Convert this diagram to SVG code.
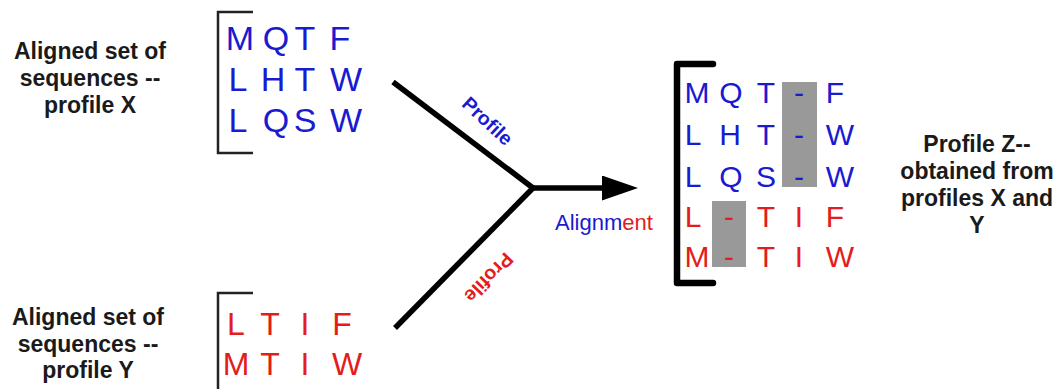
<svg xmlns="http://www.w3.org/2000/svg" width="1060" height="389" viewBox="0 0 1060 389">
<style>
.lbl{font-family:"Liberation Sans",Arial,sans-serif;font-weight:bold;font-size:23px;fill:#1a1a1a;text-anchor:middle}
.seq{font-family:"Liberation Sans",Arial,sans-serif;text-anchor:middle}
.sx{font-size:34px;fill:#1a1ad0}
.sy{font-size:32px;fill:#e41c1c}
.sz{font-size:30px}
.b{fill:#1a1ad0}
.r{fill:#e41c1c}
.br{fill:none;stroke:#222;stroke-width:2.5}
.gap{fill:#999999}
.con{stroke:#000;stroke-width:5.5;fill:none}
.elbl{font-family:"Liberation Sans",Arial,sans-serif;font-weight:bold;font-size:19.5px;text-anchor:middle}
</style>
<defs>
<marker id="arrow" markerUnits="userSpaceOnUse" markerWidth="36" markerHeight="25" refX="4" refY="12.5" orient="auto">
<path d="M0,0 L36,12.5 L0,25 Z" fill="#000"/>
</marker>
</defs>
<rect width="1060" height="389" fill="#fff"/>

<g id="profile-x-label">
<text class="lbl" x="90" y="59">Aligned set of</text>
<text class="lbl" x="90" y="86">sequences --</text>
<text class="lbl" x="90" y="113">profile X</text>
</g>

<g id="profile-x">
<path class="br" d="M253,12 H218 V153 H253"/>
<g class="seq sx">
<text x="240" y="50">M</text><text x="276" y="50">Q</text><text x="305" y="50">T</text><text x="340" y="50">F</text>
<text x="238" y="91">L</text><text x="273" y="91">H</text><text x="305" y="91">T</text><text x="346" y="91">W</text>
<text x="238" y="132">L</text><text x="276" y="132">Q</text><text x="305" y="132">S</text><text x="346" y="132">W</text>
</g>
</g>

<g id="profile-y-label">
<text class="lbl" x="88" y="325">Aligned set of</text>
<text class="lbl" x="88" y="352">sequences --</text>
<text class="lbl" x="88" y="378">profile Y</text>
</g>

<g id="profile-y">
<path class="br" d="M253,293 H218 V392"/>
<g class="seq sy">
<text x="236" y="335">L</text><text x="270" y="335">T</text><text x="305" y="335">I</text><text x="342" y="335">F</text>
<text x="236" y="375">M</text><text x="270" y="375">T</text><text x="305" y="375">I</text><text x="347" y="375">W</text>
</g>
</g>

<g id="connectors">
<line class="con" x1="393" y1="82" x2="533" y2="188"/>
<line class="con" x1="395" y1="328" x2="533" y2="188"/>
<line class="con" x1="531" y1="188" x2="606" y2="188" marker-end="url(#arrow)"/>
<text class="elbl b" transform="translate(483,126) rotate(43)">Profile</text>
<text class="elbl r" transform="translate(484,273) rotate(134)">Profile</text>
<text x="555" y="230" font-family="'Liberation Sans',Arial,sans-serif" font-size="22" class="b">Alignm<tspan class="r">ent</tspan></text>
</g>

<g id="profile-z">
<path d="M713,64 H677 V283 H713" fill="none" stroke="#000" stroke-width="6.5" stroke-linecap="round" stroke-linejoin="round"/>
<rect class="gap" x="782" y="82" width="35" height="105"/>
<rect class="gap" x="712" y="201" width="34" height="66"/>
<g class="seq sz">
<text class="b" x="697" y="103">M</text><text class="b" x="731" y="103">Q</text><text class="b" x="766" y="103">T</text><text class="b" x="799" y="103">-</text><text class="b" x="835" y="103">F</text>
<text class="b" x="693" y="145">L</text><text class="b" x="730" y="145">H</text><text class="b" x="766" y="145">T</text><text class="b" x="799" y="145">-</text><text class="b" x="840" y="145">W</text>
<text class="b" x="693" y="187">L</text><text class="b" x="731" y="187">Q</text><text class="b" x="766" y="187">S</text><text class="b" x="799" y="187">-</text><text class="b" x="840" y="187">W</text>
<text class="r" x="693" y="227">L</text><text class="r" x="729" y="227">-</text><text class="r" x="766" y="227">T</text><text class="r" x="799" y="227">I</text><text class="r" x="835" y="227">F</text>
<text class="r" x="697" y="267">M</text><text class="r" x="729" y="267">-</text><text class="r" x="766" y="267">T</text><text class="r" x="799" y="267">I</text><text class="r" x="840" y="267">W</text>
</g>
</g>

<g id="profile-z-label">
<text class="lbl" x="977" y="152">Profile Z--</text>
<text class="lbl" x="977" y="179">obtained from</text>
<text class="lbl" x="977" y="206">profiles X and</text>
<text class="lbl" x="977" y="233">Y</text>
</g>
</svg>
